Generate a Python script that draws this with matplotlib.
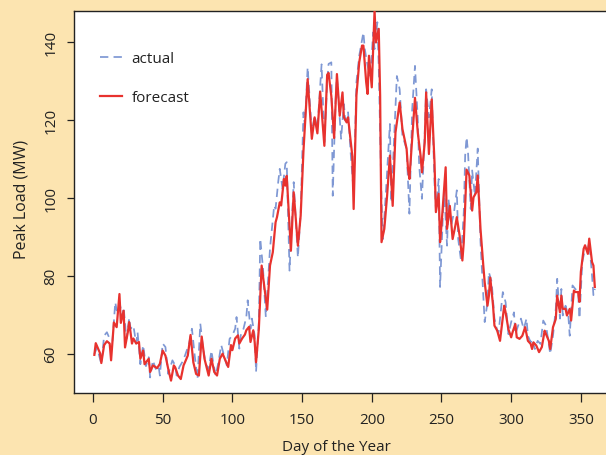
import matplotlib
matplotlib.use("Agg")
import matplotlib.pyplot as plt

# ---- data ----
actual_day = [1,3,6,8,10,12,14,16,17,19,21,22,24,26,27,29,31,32,34,36,38,40,41,43,45,47,48,50,52,54,57,59,60,62,64,66,69,71,73,75,77,79,81,83,85,86,88,90,92,93,96,98,100,102,103,105,106,108,110,111,113,114,116,117,119,120,122,124,127,130,131,133,134,136,138,139,141,144,147,149,151,152,154,157,159,161,164,166,168,169,171,172,174,175,178,180,181,183,185,187,189,191,194,195,197,199,201,202,204,205,207,208,210,213,214,217,218,220,222,225,227,229,231,233,234,236,238,239,241,243,245,246,248,249,251,252,254,255,257,259,261,262,264,266,267,268,269,271,272,274,276,278,281,283,284,286,288,290,291,294,296,298,300,302,303,305,307,309,311,312,314,315,317,319,321,323,325,327,328,330,332,333,335,336,337,339,341,342,344,346,348,349,351,353,355,356,358,359,360]
actual_val = [59.9,61.6,57.3,64.6,65.5,63.8,63.3,73.2,71.1,73.2,69.7,71.9,63.8,69.1,66.4,67.2,62.6,65.5,57.3,62.2,56.8,59.1,53.9,58.3,56.1,57.0,54.4,62.6,61.7,54.8,58.3,57.0,54.4,56.6,57.8,59.5,62.6,66.4,59.5,53.5,67.7,61.3,57.3,56.1,60.8,58.3,54.4,57.8,62.2,60.9,57.0,63.8,64.7,66.4,69.4,61.3,64.7,66.4,69.4,73.7,66.4,69.0,64.7,55.4,68.1,89.5,81.8,69.4,87.0,98.0,97.2,104.4,107.4,102.3,108.7,109.1,81.3,104.0,84.7,96.2,121.9,118.5,133.4,116.7,121.0,117.6,134.2,114.2,129.6,134.3,134.7,100.5,124.8,131.0,115.1,124.0,119.8,121.9,110.8,101.4,129.6,136.4,142.4,138.1,133.8,131.2,142.4,138.1,145.0,133.8,99.6,89.4,100.5,118.9,98.8,122.7,131.2,127.8,115.9,112.5,95.9,122.7,133.8,120.1,108.2,99.7,116.7,127.8,120.6,127.8,103.9,97.1,104.8,77.1,95.4,101.4,87.7,99.7,92.9,96.3,101.9,89.4,83.9,96.3,110.8,115.5,112.0,97.1,107.0,100.5,112.6,88.6,68.1,73.2,80.9,78.4,69.0,65.9,65.5,75.8,73.2,65.0,68.1,70.6,65.0,67.2,69.0,66.3,69.0,64.6,62.9,63.8,61.2,63.3,62.5,68.5,67.2,62.5,59.9,64.6,71.5,79.2,69.0,76.6,69.8,72.3,69.8,64.6,77.5,76.6,75.8,69.0,83.5,86.9,86.9,88.6,80.1,75.0,76.6]

forecast_day = [1,2,5,6,8,10,12,13,15,17,19,20,22,23,25,26,28,29,31,33,34,36,37,40,41,43,46,48,50,52,54,56,58,59,61,63,65,66,68,70,72,74,76,78,80,83,85,87,89,91,93,95,97,99,100,102,104,105,107,109,110,112,113,115,116,117,119,121,125,127,129,131,132,134,135,137,138,139,142,144,147,149,151,154,157,159,161,163,166,168,169,171,173,175,177,179,180,182,183,186,187,189,191,193,194,196,197,198,200,202,203,205,206,207,209,211,213,215,217,219,220,222,225,226,227,229,231,233,235,236,238,239,241,243,245,246,248,249,250,253,254,256,258,260,261,263,265,266,268,270,272,273,275,276,278,280,281,283,284,285,287,288,290,292,293,295,296,298,300,301,303,304,306,308,310,312,314,315,316,318,320,322,324,325,327,328,330,332,333,335,336,337,339,340,342,343,345,346,348,349,350,352,353,355,356,358,359,360]
forecast_val = [59.7,62.7,60.2,57.6,62.2,63.2,62.6,58.3,68.0,66.8,75.3,67.9,71.0,61.6,65.5,68.1,62.6,63.9,62.6,63.0,58.7,60.8,57.3,58.7,55.3,57.0,56.3,57.4,60.8,59.5,56.1,53.1,57.0,56.5,54.4,53.5,57.0,57.8,59.5,64.8,57.8,54.8,54.4,64.4,58.7,54.4,58.7,55.3,54.4,58.7,60.0,58.3,56.6,62.2,60.9,63.9,64.7,62.6,63.9,64.9,66.0,66.9,63.0,66.0,63.0,57.8,66.4,82.6,71.3,82.6,86.0,93.7,95.0,98.8,98.0,104.8,103.1,105.6,86.4,101.4,87.7,95.4,112.0,130.4,115.1,120.6,116.5,127.2,113.3,131.5,132.0,126.0,115.3,131.7,121.0,127.0,120.6,119.3,120.6,110.8,97.1,126.2,134.7,139.0,139.0,129.6,126.6,136.4,128.3,148.0,139.8,143.3,126.2,88.6,92.0,100.5,110.8,97.9,116.7,121.8,124.4,117.6,112.5,107.4,104.8,115.0,125.6,116.7,110.8,106.5,114.2,127.0,111.2,125.2,109.1,96.3,101.0,88.6,92.9,107.8,92.0,97.9,89.4,92.9,95.0,90.3,83.9,88.6,107.2,105.7,96.7,100.1,101.4,105.7,92.0,82.6,78.3,72.3,74.8,79.5,72.3,67.2,65.9,63.3,66.3,72.3,70.6,66.3,64.2,65.5,67.6,64.2,63.8,64.6,66.8,63.3,62.5,61.2,62.9,62.1,60.4,61.7,65.9,65.0,63.3,61.2,66.8,68.9,74.9,70.6,74.9,71.5,71.5,69.8,71.5,68.5,76.2,75.8,75.8,73.3,81.0,86.9,87.8,85.6,89.5,83.5,82.6,77.1]

x_ticks = [0, 50, 100, 150, 200, 250, 300, 350]
y_ticks = [60, 80, 100, 120, 140]
x_label = "Day of the Year"
y_label = "Peak Load (MW)"
series_names = ["actual", "forecast"]

# ---- style ----
BG = "#FCE4B0"
TXT = "#222222"
BLUE = "#7F98D4"
RED = "#E8322E"
plt.rcParams["font.family"] = ["Open Sans", "DejaVu Sans"]

W, H = 606, 456
fig = plt.figure(figsize=(W / 100, H / 100), dpi=100, facecolor=BG)
ax = fig.add_axes([74 / W, (H - 394) / H, 548 / W, 382 / H])
ax.set_facecolor("white")

ax.plot(actual_day, actual_val, color=BLUE, lw=1.25, linestyle=(0, (4.8, 3.0)),
        label=series_names[0], zorder=2)
ax.plot(forecast_day, forecast_val, color=RED, lw=1.6, label=series_names[1],
        zorder=3)

ax.set_xlim(-13.6, 379.5)
ax.set_ylim(49.92, 147.87)

ax.set_xticks(x_ticks)
ax.set_yticks(y_ticks)
ax.set_xticklabels([str(t) for t in x_ticks], fontsize=11, color=TXT)
ax.set_yticklabels([str(t) for t in y_ticks], fontsize=11, color=TXT,
                   rotation=90, va="center")
ax.tick_params(axis="x", direction="out", length=6.5, width=0.9, color=TXT, pad=7)
ax.tick_params(axis="y", direction="out", length=5.2, width=0.9, color=TXT, pad=6.0)
for s in ax.spines.values():
    s.set_color(TXT)
    s.set_linewidth(1.0)

ax.set_xlabel(x_label, fontsize=11, color=TXT)
ax.xaxis.set_label_coords((336.5 - 74) / 548, -(448 - 394) / 382)
ax.xaxis.label.set_va("center")
ax.set_ylabel(y_label, fontsize=11.5, color=TXT)
ax.yaxis.set_label_coords(-(74 - 21) / 548, (394 - 199) / 382)
ax.yaxis.label.set_va("center")

leg = ax.legend(loc="upper left", bbox_to_anchor=((100 - 74) / 548, 1 - (52 - 12) / 382),
                frameon=False, fontsize=11, handlelength=1.45, handletextpad=0.6,
                labelspacing=1.6, borderpad=0, borderaxespad=0)
for t in leg.get_texts():
    t.set_color(TXT)

fig.savefig("out.png", dpi=100, facecolor=BG)
